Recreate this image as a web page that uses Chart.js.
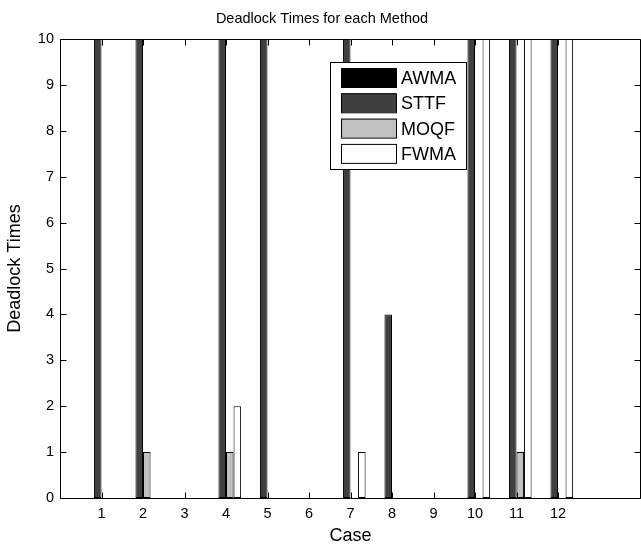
<!DOCTYPE html>
<html>
<head>
<meta charset="utf-8">
<script src="https://cdn.jsdelivr.net/npm/chart.js@4/dist/chart.umd.min.js"></script>
<style>
  html, body { margin: 0; padding: 0; background: #ffffff; overflow: hidden; }
  #wrap { width: 641px; height: 547px; overflow: hidden; position: relative; }
  canvas { display: block; }
</style>
</head>
<body>
<div id="wrap"><canvas id="c" width="648" height="547"></canvas></div>
<script>
// ---- data (values above 10 are clipped at the top of the axes) ----
const cases = ['1','2','3','4','5','6','7','8','9','10','11','12'];
const seriesNames = ['AWMA', 'STTF', 'MOQF', 'FWMA'];
const awma = [0, 0, 0, 0, 0, 0, 0, 0, 0, 0, 0, 0];
const sttf = [12, 12, 0, 12, 12, 0, 12, 4, 0, 12, 12, 12];
const moqf = [0, 1, 0, 1, 0, 0, 0, 0, 0, 0, 1, 0];
const fwma = [0, 0, 0, 2, 0, 0, 1, 0, 0, 12, 12, 12];
const yTicks = [0, 1, 2, 3, 4, 5, 6, 7, 8, 9, 10];

const titleText = 'Deadlock Times for each Method';
const xTitle = 'Case';
const yTitle = 'Deadlock Times';

const fills = ['#000000', '#404040', '#c0c0c0', '#ffffff'];
const FONT = "'Liberation Sans', Arial, Helvetica, sans-serif";

// x axis spans 0..14 (one empty slot on the left, two on the right)
const labels = [''].concat(cases, ['', '']);
const pad = v => [null].concat(v, [null, null]);
const seriesValues = [awma, sttf, moqf, fwma];

const datasets = seriesNames.map((name, i) => ({
  label: name,
  data: pad(seriesValues[i]),
  backgroundColor: fills[i],
  borderColor: '#000000',
  borderWidth: 1,
  borderSkipped: false,
  clip: 0
}));

const boxPlugin = {
  id: 'matlabBox',
  afterDatasetsDraw(chart) {
    const { ctx, chartArea: a, scales } = chart;
    const xs = scales.x, ys = scales.y;
    const L = Math.round(a.left) + 0.5, R = Math.round(a.right) - 0.5;
    const T = Math.round(a.top) + 0.5, B = Math.round(a.bottom) + 0.5;
    const tl = 6;
    ctx.save();
    ctx.strokeStyle = '#000000';
    ctx.lineWidth = 1;
    ctx.beginPath();
    ctx.rect(L, T, R - L, B - T);
    xs.ticks.forEach((t, i) => {
      if (!labels[i]) return;
      const px = Math.round(xs.getPixelForTick(i)) + 0.5;
      ctx.moveTo(px, B); ctx.lineTo(px, B - tl);
      ctx.moveTo(px, T); ctx.lineTo(px, T + tl);
    });
    ys.ticks.forEach((t, i) => {
      const py = Math.round(ys.getPixelForTick(i)) + 0.5;
      ctx.moveTo(L, py); ctx.lineTo(L + tl, py);
      ctx.moveTo(R, py); ctx.lineTo(R - tl, py);
    });
    ctx.stroke();
    ctx.restore();
  },
  afterDraw(chart, args, opts) {
    const { ctx } = chart;
    const b = opts.box;
    ctx.save();
    ctx.fillStyle = '#ffffff';
    ctx.fillRect(b.left, b.top, b.right - b.left, b.bottom - b.top);
    ctx.strokeStyle = '#000000';
    ctx.lineWidth = 1;
    ctx.strokeRect(b.left + 0.5, b.top + 0.5, b.right - b.left, b.bottom - b.top);
    ctx.font = opts.fontSize + 'px ' + FONT;
    ctx.textBaseline = 'middle';
    ctx.textAlign = 'left';
    chart.data.datasets.forEach((ds, i) => {
      const sy = b.top + opts.firstRow + i * opts.rowStep;
      ctx.fillStyle = ds.backgroundColor;
      ctx.fillRect(b.left + opts.swLeft, sy, opts.swW, opts.swH);
      ctx.strokeStyle = '#000000';
      ctx.strokeRect(b.left + opts.swLeft + 0.5, sy + 0.5, opts.swW, opts.swH);
      ctx.fillStyle = '#000000';
      ctx.fillText(ds.label, b.left + opts.textLeft, sy + opts.swH / 2 + 1.5);
    });
    ctx.restore();
  }
};

new Chart(document.getElementById('c'), {
  type: 'bar',
  data: { labels: labels, datasets: datasets },
  plugins: [boxPlugin],
  options: {
    responsive: false,
    animation: false,
    devicePixelRatio: 1,
    layout: { padding: { left: 0, right: 4, top: 0, bottom: 0 } },
    datasets: { bar: { categoryPercentage: 4 / 5.5, barPercentage: 1 } },
    plugins: {
      legend: { display: false },
      tooltip: { enabled: false },
      title: {
        display: true,
        text: titleText,
        color: '#000000',
        font: { family: FONT, size: 14.5, weight: 'normal' },
        padding: { top: 10.3, bottom: 11.3 }
      },
      matlabBox: {
        box: { left: 330, top: 62, right: 466, bottom: 169 },
        fontSize: 18,
        firstRow: 6, rowStep: 25.3,
        swLeft: 11, swW: 55, swH: 19,
        textLeft: 71
      }
    },
    scales: {
      x: {
        type: 'category',
        offset: false,
        grid: { display: false, drawTicks: false },
        border: { display: false },
        ticks: {
          autoSkip: false, maxRotation: 0, minRotation: 0,
          padding: 7,
          color: '#000000',
          font: { family: FONT, size: 14.5 }
        },
        title: {
          display: true, text: xTitle, color: '#000000',
          font: { family: FONT, size: 18 },
          padding: { top: 0, bottom: 0.5 }
        },
        afterFit(s) { s.height = 49; }
      },
      y: {
        min: 0, max: 10,
        afterBuildTicks(s) { s.ticks = yTicks.map(v => ({ value: v })); },
        grid: { display: false, drawTicks: false },
        border: { display: false },
        ticks: {
          padding: 6,
          color: '#000000',
          font: { family: FONT, size: 14.5 }
        },
        title: {
          display: true, text: yTitle, color: '#000000',
          font: { family: FONT, size: 18 },
          padding: { top: 4.5, bottom: 0 }
        },
        afterFit(s) { s.width = 60; }
      }
    }
  }
});
</script>
</body>
</html>
